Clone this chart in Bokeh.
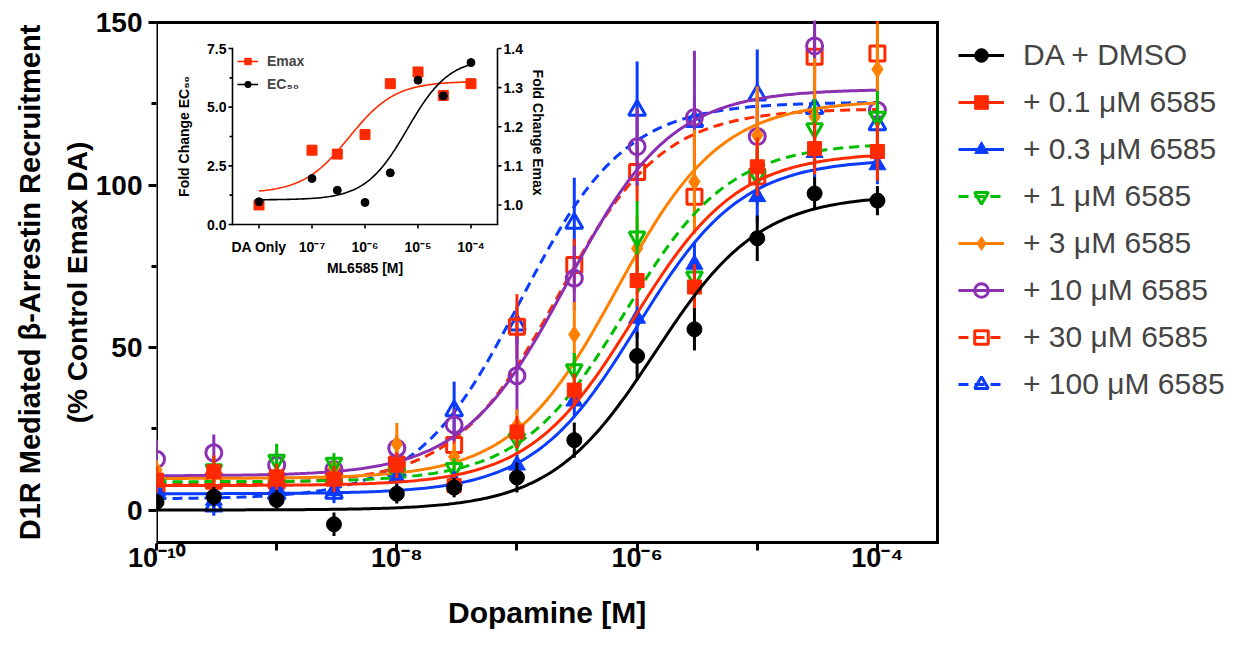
import numpy as np
from bokeh.plotting import figure
from bokeh.models import (Range1d, FixedTicker, CustomJSTickFormatter, LinearAxis,
                          Legend, LegendItem, LogScale, LinearScale, Title)
from bokeh.core.properties import value
from bokeh.embed import file_html
from bokeh.resources import INLINE

# ---------------- main panel data ----------------
dopamine_M = [1e-10, 3e-10, 1e-9, 3e-9, 1e-8, 3e-8, 1e-7, 3e-7, 1e-6, 3e-6, 1e-5, 3e-5, 1e-4]

series_labels = ["DA + DMSO", "+ 0.1 μM 6585", "+ 0.3 μM 6585", "+ 1 μM 6585",
                 "+ 3 μM 6585", "+ 10 μM 6585", "+ 30 μM 6585", "+ 100 μM 6585"]

da_dmso     = [2.5, 4.1, 3.1, -4.4, 5.0, 6.9, 10.0, 21.5, 47.4, 55.6, 83.6, 97.4, 95.2]
da_dmso_sem = [2.5, 3.0, 3.0, 3.6, 3.0, 3.0, 4.6, 5.4, 7.4, 6.5, 7.0, 5.0, 4.5]
ml_0p1      = [9.2, 11.8, 10.2, 9.5, 13.8, 7.5, 24.0, 36.9, 70.6, 68.6, 105.6, 111.2, 110.3]
ml_0p1_sem  = [4, 5, 4, 4, 4, 3, 5, 5, 8, 7, 9, 8, 9]
ml_0p3      = [5.6, 3.0, 6.7, 6.0, 10.0, 9.0, 13.8, 33.5, 59.0, 75.6, 96.4, 110.0, 106.2]
ml_0p3_sem  = [3, 3, 3, 3, 3, 3, 4, 5, 6, 7, 8, 8, 6]
ml_1        = [8.0, 12.5, 15.4, 14.5, 11.3, 12.9, 22.0, 43.3, 84.1, 71.8, 103.0, 117.4, 121.0]
ml_1_sem    = [3, 4, 5, 3, 3, 3, 4, 5, 11, 8, 9, 9, 8]
ml_3        = [12.3, 11.0, 11.0, 13.0, 20.3, 16.4, 26.0, 54.0, 80.5, 101.0, 115.3, 121.0, 135.6]
ml_3_sem    = [3, 3, 3, 3, 6.5, 4, 5, 10, 10, 16, 15, 18, 14]
ml_10       = [15.6, 17.6, 13.8, 12.5, 19.0, 26.2, 41.3, 71.3, 111.8, 120.8, 114.9, 142.8, 123.0]
ml_10_sem   = [6, 5.6, 4, 3, 4, 5, 12, 10, 12, 20.5, 10, 10, 8]
ml_30       = [7.0, 9.0, 9.0, 10.0, 14.0, 20.0, 56.4, 75.4, 104.0, 96.4, 102.6, 139.5, 140.5]
ml_30_sem   = [3, 3, 3, 3, 3, 4, 10, 8, 9, 8, 8, 8, 10]
ml_100      = [6.0, 1.2, 5.0, 5.1, 12.0, 30.5, 56.9, 88.2, 123.0, 119.5, 127.7, 123.5, 118.5]
ml_100_sem  = [3, 3, 3, 3, 3, 9, 6, 14, 15, 8, 14, 8, 6]

# four-parameter logistic fits
fit_bottom  = [0.0, 7.5, 5.0, 8.7, 9.7, 10.5, 8.0, 3.4]
fit_top     = [97.0, 110.0, 108.0, 113.0, 126.0, 129.5, 123.5, 125.5]
fit_logec50 = [-5.85, -6.03, -6.0, -6.1, -6.17, -6.58, -6.66, -6.97]
fit_hill    = [1.0, 1.0, 1.0, 1.0, 1.0, 1.0, 1.0, 1.0]

x_tick_values = [1e-10, 1e-9, 1e-8, 1e-7, 1e-6, 1e-5, 1e-4]
x_tick_exps   = [-10, -9, -8, -7, -6, -5, -4]
x_tick_labels = ["10⁻¹⁰", "", "10⁻⁸", "", "10⁻⁶", "", "10⁻⁴"]
y_ticks       = [0, 50, 100, 150]
y_minor_ticks = [25, 75, 125]

# ---------------- inset data ----------------
ml6585_M           = [1e-8, 1e-7, 3e-7, 1e-6, 3e-6, 1e-5, 3e-5, 1e-4]
fold_ec50          = [0.97, 1.96, 1.46, 0.94, 2.2, 6.15, 5.48, 6.9]
fold_emax          = [1.0, 1.14, 1.13, 1.18, 1.31, 1.34, 1.28, 1.31]
emax_fit           = [1.03, 1.316, -6.3, 1.0]     # bottom, top, logEC50, hill
ec50_fit           = [1.05, 7.1, -5.2, 1.1]
inset_x_ticks      = [1e-8, 1e-7, 1e-6, 1e-5, 1e-4]
inset_x_labels     = ["DA Only", "10⁻⁷", "10⁻⁶", "10⁻⁵", "10⁻⁴"]
inset_left_ticks   = [0.0, 2.5, 5.0, 7.5]
inset_left_labels  = ["0.0", "2.5", "5.0", "7.5"]
inset_left_minor   = [1.25, 3.75, 6.25]
inset_right_ticks  = [1.0, 1.1, 1.2, 1.3, 1.4]
inset_right_labels = ["1.0", "1.1", "1.2", "1.3", "1.4"]

FONT = "Liberation Sans"


def logistic(x, bottom, top, logec50, hill):
    x = np.asarray(x, dtype=float)
    return bottom + (top - bottom) / (1.0 + 10 ** ((logec50 - np.log10(x)) * hill))


values = [da_dmso, ml_0p1, ml_0p3, ml_1, ml_3, ml_10, ml_30, ml_100]
sems = [da_dmso_sem, ml_0p1_sem, ml_0p3_sem, ml_1_sem, ml_3_sem, ml_10_sem, ml_30_sem, ml_100_sem]

colors  = ["#000000", "#FF2A00", "#0A3CFF", "#00BE00", "#FF8000", "#8B2FB3", "#FF2A00", "#0A3CFF"]
markers = ["circle", "square", "triangle", "inverted_triangle", "diamond", "circle", "square", "triangle"]
filled  = [True, True, True, False, True, False, False, False]
dashed  = [False, False, False, True, False, False, True, True]
msizes  = [15, 14, 17, 16, 17, 16, 15, 17]

# ---------------- layout constants (pixels) ----------------
W, H = 1235, 646
BL, BR, BT, BB = 156, 937, 22, 542          # drawn box of the main plot
PAD = 2                                     # frame extends this much above/below the box
FL, FT, FB = BL, BT - PAD, BB + PAD         # frame (extends to the right edge for the legend)
FW, FH = W - FL, FB - FT
IL, IR, IT, IB = 232, 497, 48, 224          # inset box

X0_LOG, X1_LOG = -10.0, -3.5                 # visible dopamine axis
Y0, Y1 = -10.0, 150.0
dec_px = (BR - BL) / (X1_LOG - X0_LOG)
px_per_y = (BB - BT) / (Y1 - Y0)
x_end_log = X0_LOG + FW / dec_px

p = figure(width=W, height=H, x_axis_type="log",
           x_range=Range1d(10 ** X0_LOG, 10 ** x_end_log),
           y_range=Range1d(Y0 - PAD / px_per_y, Y1 + PAD / px_per_y),
           output_backend="svg", toolbar_location=None,
           min_border_left=FL, min_border_right=0, min_border_top=FT, min_border_bottom=H - FB)
p.grid.visible = False
p.outline_line_color = None

# the plot box
XA, XB = 10 ** X0_LOG, 10 ** X1_LOG
p.segment(x0=[XA, XA, XB, XA], y0=[Y0, Y1, Y0, Y0], x1=[XB, XB, XB, XA], y1=[Y0, Y1, Y1, Y1],
          line_color="black", line_width=3, line_cap="square")

xfit = np.logspace(-10, -4, 241)
renderers = {}
for i in reversed(range(8)):
    c = colors[i]
    lo = [v - s for v, s in zip(values[i], sems[i])]
    hi = [v + s for v, s in zip(values[i], sems[i])]
    yfit = logistic(xfit, fit_bottom[i], fit_top[i], fit_logec50[i], fit_hill[i])
    lr = p.line(xfit, yfit, line_color=c, line_width=3,
                line_dash="10 6" if dashed[i] else "solid")
    p.segment(x0=dopamine_M, y0=lo, x1=dopamine_M, y1=hi, line_color=c, line_width=3)
    sr = p.scatter(dopamine_M, values[i], marker=markers[i], size=msizes[i],
                   line_color=c, line_width=3 if not filled[i] else 1,
                   fill_color=c if filled[i] else None)
    renderers[i] = (lr, sr)

LEG_X, LEG_TOP, ROW, GAP = 958, 38, 34, 13
leg_h = 8 * ROW + 7 * GAP
items = [LegendItem(label=series_labels[i], renderers=list(renderers[i])) for i in range(8)]
legend = Legend(items=items, location=(LEG_X - FL, FB - (LEG_TOP + leg_h)), orientation="vertical",
                glyph_width=46, glyph_height=ROW, label_height=ROW, spacing=GAP,
                label_standoff=19, padding=0, margin=0,
                border_line_color=None, background_fill_alpha=0,
                label_text_font=FONT, label_text_font_size="30px")
p.add_layout(legend)

# main axes
p.xaxis.ticker = FixedTicker(ticks=x_tick_values, minor_ticks=[])
p.xaxis.formatter = CustomJSTickFormatter(
    args=dict(exps=x_tick_exps, labels=x_tick_labels),
    code="const e = Math.round(Math.log10(tick)); const i = exps.indexOf(e); return i >= 0 ? labels[i] : '';")
for ax in (p.xaxis[0], p.yaxis[0]):
    ax.axis_line_color = None
    ax.major_tick_line_width = 3
    ax.minor_tick_line_width = 3
    ax.major_tick_out = 8 - PAD
    ax.major_tick_in = 1
    ax.minor_tick_in = 0
    ax.major_label_text_font = FONT
    ax.major_label_text_font_style = "bold"
    ax.axis_label_text_font = FONT
    ax.axis_label_text_font_style = "bold"
    ax.axis_label_text_color = "black"
    ax.major_label_text_color = "black"
p.yaxis.major_tick_out = 8
p.yaxis.major_tick_in = 0
p.xaxis.major_label_text_font_size = "27px"
p.xaxis.major_label_standoff = -8

# x-axis title, centred under the drawn box (the frame itself runs on under the legend)
x_title = Title(text="Dopamine [M]", align="left", offset=(BL + BR) / 2 - FL - 99,
                standoff=36, text_font=FONT, text_font_style="bold", text_font_size="30px",
                text_color="black")
p.add_layout(x_title, "below")

p.yaxis.ticker = FixedTicker(ticks=y_ticks, minor_ticks=y_minor_ticks)
p.yaxis.minor_tick_out = 5
p.yaxis.major_label_text_font_size = "28px"
p.yaxis.major_label_standoff = 6
p.yaxis.axis_label = "(% Control Emax DA)"
p.yaxis.axis_label_text_font_size = "28px"
p.yaxis.axis_label_standoff = 0

ax2 = LinearAxis(axis_label="D1R Mediated β-Arrestin Recruitment",
                 ticker=FixedTicker(ticks=[]), major_label_text_font_size="0px",
                 axis_line_color=None, major_tick_line_color=None, minor_tick_line_color=None,
                 major_tick_out=0, minor_tick_out=0, major_label_standoff=0,
                 axis_label_standoff=13, axis_label_text_font=FONT,
                 axis_label_text_font_style="bold", axis_label_text_font_size="29px",
                 axis_label_text_color="black")
p.add_layout(ax2, "left")

# ---------------- inset, drawn inside the main frame through extra ranges ----------------
ix0, ix1 = -8.5, -3.5          # log10 limits of the inset x axis
iy0, iy1 = 0.0, 7.5            # left inset axis
jy0, jy1 = 0.95, 1.4           # right inset axis
fl, fr = (IL - FL) / FW, (IR - FL) / FW
fb, ft = (FB - IB) / FH, (FB - IT) / FH
dec = (ix1 - ix0) / (fr - fl)
xs = ix0 - fl * dec
uy = (iy1 - iy0) / (ft - fb)
ys = iy0 - fb * uy
uj = (jy1 - jy0) / (ft - fb)
js = jy0 - fb * uj
p.extra_x_ranges = {"inx": Range1d(10 ** xs, 10 ** (xs + dec))}
p.extra_x_scales = {"inx": LogScale()}
p.extra_y_ranges = {"iny": Range1d(ys, ys + uy), "inj": Range1d(js, js + uj)}
p.extra_y_scales = {"iny": LinearScale(), "inj": LinearScale()}

XL, XR = 10 ** ix0, 10 ** ix1
AX = dict(line_color="black", line_width=1.6)
p.segment(x0=[XL, XL], y0=[iy0, iy0], x1=[XL, XR], y1=[iy1, iy0],
          x_range_name="inx", y_range_name="iny", line_cap="square", **AX)
p.segment(x0=[XR], y0=[jy0], x1=[XR], y1=[jy1], x_range_name="inx", y_range_name="inj", **AX)
p.ray(x=[XL] * len(inset_left_ticks), y=inset_left_ticks, length=4, length_units="screen",
      angle=np.pi, x_range_name="inx", y_range_name="iny", **AX)
p.ray(x=[XL] * len(inset_left_minor), y=inset_left_minor, length=3, length_units="screen",
      angle=np.pi, x_range_name="inx", y_range_name="iny", **AX)
p.ray(x=inset_x_ticks, y=[iy0] * len(inset_x_ticks), length=4, length_units="screen",
      angle=-np.pi / 2, x_range_name="inx", y_range_name="iny", **AX)
p.ray(x=[XR] * len(inset_right_ticks), y=inset_right_ticks, length=4, length_units="screen",
      angle=0, x_range_name="inx", y_range_name="inj", **AX)

TXT = dict(text_font=value(FONT), text_font_style=value("bold"), text_font_size=value("14px"),
           text_color="black")
p.text(x=[XL] * len(inset_left_ticks), y=inset_left_ticks, text=inset_left_labels,
       text_align="right", text_baseline="middle", x_offset=-6,
       x_range_name="inx", y_range_name="iny", **TXT)
p.text(x=[XR] * len(inset_right_ticks), y=inset_right_ticks, text=inset_right_labels,
       text_align="left", text_baseline="middle", x_offset=6,
       x_range_name="inx", y_range_name="inj", **TXT)
p.text(x=inset_x_ticks, y=[iy0] * len(inset_x_ticks), text=inset_x_labels,
       text_align="center", text_baseline="middle", y_offset=22,
       x_range_name="inx", y_range_name="iny", **TXT)
p.text(x=[10 ** ((ix0 + ix1) / 2)], y=[iy0], text=["ML6585 [M]"],
       text_align="center", text_baseline="middle", y_offset=43,
       x_range_name="inx", y_range_name="iny", **TXT)
p.text(x=[XL], y=[(iy0 + iy1) / 2], text=["Fold Change EC₅₀"], angle=np.pi / 2,
       text_align="center", text_baseline="middle", x_offset=-49,
       x_range_name="inx", y_range_name="iny", **TXT)
p.text(x=[XR], y=[(jy0 + jy1) / 2], text=["Fold  Change  Emax"], angle=-np.pi / 2,
       text_align="center", text_baseline="middle", x_offset=40,
       x_range_name="inx", y_range_name="inj", **TXT)

xin = np.logspace(-8, -4, 161)
r_emax_l = p.line(xin, logistic(xin, *emax_fit), line_color="#FF2A00", line_width=1.6,
                  x_range_name="inx", y_range_name="inj")
r_emax_s = p.scatter(ml6585_M, fold_emax, marker="square", size=10, line_color="#FF2A00",
                     fill_color="#FF2A00", x_range_name="inx", y_range_name="inj")
r_ec_l = p.line(xin, logistic(xin, *ec50_fit), line_color="black", line_width=1.6,
                x_range_name="inx", y_range_name="iny")
r_ec_s = p.scatter(ml6585_M, fold_ec50, marker="circle", size=8, line_color="black",
                   fill_color="black", x_range_name="inx", y_range_name="iny")

ileg = Legend(items=[LegendItem(label="Emax", renderers=[r_emax_l, r_emax_s]),
                     LegendItem(label="EC₅₀", renderers=[r_ec_l, r_ec_s])],
              location=(IL + 5 - FL, FB - (IT + 5 + 39)), glyph_width=21, glyph_height=16,
              label_height=16, spacing=7, label_standoff=9, padding=0, margin=0,
              border_line_color=None, background_fill_alpha=0,
              label_text_font=FONT, label_text_font_style="bold", label_text_font_size="14px")
p.add_layout(ileg)

open("out.html", "w").write(file_html(p, INLINE))
